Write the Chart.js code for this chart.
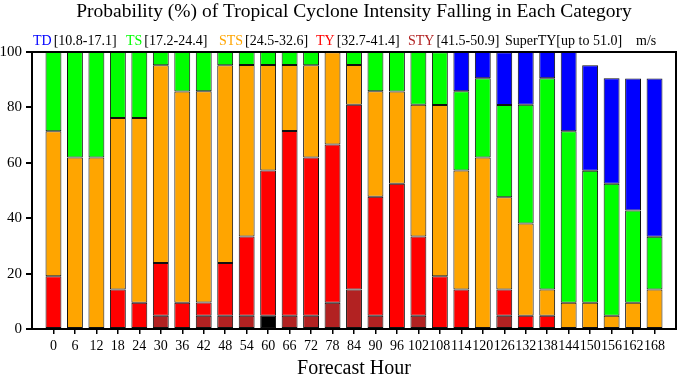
<!DOCTYPE html>
<html>
<head>
<meta charset="utf-8">
<script src="https://cdn.jsdelivr.net/npm/chart.js@4.4.1/dist/chart.umd.min.js"></script>
<style>
  html, body { margin: 0; padding: 0; background: #fff; }
  #wrap { width: 680px; height: 378px; }
</style>
</head>
<body>
<div id="wrap"><canvas id="c" width="680" height="378"></canvas></div>
<script>
// ---- data (percent of ensemble members) ----
const hours = [0, 6, 12, 18, 24, 30, 36, 42, 48, 54, 60, 66, 72, 78, 84, 90, 96, 102, 108, 114, 120, 126, 132, 138, 144, 150, 156, 162, 168];

const superTY = [0, 0, 0, 0, 0, 0, 0, 0, 0, 0, 4.8, 0, 0, 0, 0, 0, 0, 0, 0, 0, 0, 0, 0, 0, 0, 0, 0, 0, 0];
const sty     = [0, 0, 0, 0, 0, 4.8, 0, 4.8, 4.8, 4.8, 0, 4.8, 4.8, 9.5, 14.3, 4.8, 0, 4.8, 0, 0, 0, 4.8, 0, 0, 0, 0, 0, 0, 0];
const ty      = [19.0, 0, 0, 14.3, 9.5, 19.0, 9.5, 4.8, 19.0, 28.6, 52.4, 66.7, 57.1, 57.1, 66.7, 42.9, 52.4, 28.6, 19.0, 14.3, 0, 9.5, 4.8, 4.8, 0, 0, 0, 0, 0];
const sts     = [52.4, 61.9, 61.9, 61.9, 66.7, 71.4, 76.2, 76.2, 71.4, 61.9, 38.1, 23.8, 33.3, 33.3, 14.3, 38.1, 33.3, 47.6, 61.9, 42.9, 61.9, 33.3, 33.3, 9.5, 9.5, 9.5, 4.8, 9.5, 14.3];
const ts      = [28.6, 38.1, 38.1, 23.8, 23.8, 4.8, 14.3, 14.3, 4.8, 4.8, 4.8, 4.8, 4.8, 0, 4.8, 14.3, 14.3, 19.0, 19.0, 28.6, 28.6, 33.3, 42.9, 76.2, 61.9, 47.6, 47.6, 33.3, 19.0];
const td      = [0, 0, 0, 0, 0, 0, 0, 0, 0, 0, 0, 0, 0, 0, 0, 0, 0, 0, 0, 14.3, 9.5, 19.0, 19.0, 9.5, 28.6, 38.1, 38.1, 47.6, 57.1];

const yTicks = [0, 20, 40, 60, 80, 100];

const titleText = 'Probability (%) of Tropical Cyclone Intensity Falling in Each Category';
const xTitle = 'Forecast Hour';
const legendNames  = ['TD', 'TS', 'STS', 'TY', 'STY', 'SuperTY'];
const legendRanges = ['[10.8-17.1]', '[17.2-24.4]', '[24.5-32.6]', '[32.7-41.4]', '[41.5-50.9]', '[up to 51.0]'];
const legendColors = ['#0000ff', '#00ff00', '#ffa500', '#ff0000', '#b22222', '#000000'];
const unitLabel = 'm/s';

// ---- build chart structures ----
// blank slots at both ends give the half-category margin seen in the reference
const labels = [''].concat(hours.map(String), ['']);
const pad = arr => [null].concat(arr.map(v => (v === 0 ? null : v)), [null]);

const SERIF = '"Liberation Serif", "Times New Roman", serif';

const series = [
  { name: 'SuperTY', data: superTY, color: '#000000' },
  { name: 'STY',     data: sty,     color: '#b22222' },
  { name: 'TY',      data: ty,      color: '#ff0000' },
  { name: 'STS',     data: sts,     color: '#ffa500' },
  { name: 'TS',      data: ts,      color: '#00ff00' },
  { name: 'TD',      data: td,      color: '#0000ff' }
];

const datasets = series.map(s => ({
  label: s.name,
  data: pad(s.data),
  backgroundColor: s.color,
  borderColor: '#111111',
  borderWidth: 1,
  borderSkipped: false,
  categoryPercentage: 1.0,
  barPercentage: 0.74
}));

const decorPlugin = {
  id: 'decor',
  afterDatasetsDraw(chart) {
    const { ctx, chartArea: a } = chart;
    ctx.save();
    ctx.strokeStyle = '#000';
    ctx.lineWidth = 2;
    ctx.strokeRect(a.left, a.top, a.right - a.left, a.bottom - a.top);
    ctx.restore();
  },
  afterDraw(chart) {
    const { ctx, chartArea: a } = chart;
    ctx.save();
    // title
    ctx.fillStyle = '#000';
    ctx.font = '19.5px ' + SERIF;
    ctx.textAlign = 'center';
    ctx.textBaseline = 'alphabetic';
    ctx.fillText(titleText, (a.left + a.right) / 2, 17);
    // legend line
    ctx.font = '14px ' + SERIF;
    ctx.textAlign = 'left';
    const nameX = [33, 126, 219, 316, 408, 505];
    const baseY = 45;
    legendNames.forEach((n, i) => {
      ctx.fillStyle = legendColors[i];
      ctx.fillText(n, nameX[i], baseY);
      const w = ctx.measureText(n).width;
      ctx.fillStyle = '#000';
      ctx.fillText(legendRanges[i], nameX[i] + w + (i === 5 ? 0 : 2), baseY);
    });
    ctx.fillStyle = '#000';
    ctx.fillText(unitLabel, 636, baseY);
    ctx.restore();
  }
};

new Chart(document.getElementById('c'), {
  type: 'bar',
  data: { labels: labels, datasets: datasets },
  options: {
    responsive: false,
    animation: false,
    devicePixelRatio: 1,
    layout: { padding: { top: 52, right: 1, left: 0, bottom: 0 } },
    plugins: {
      legend: { display: false },
      tooltip: { enabled: false },
      title: { display: false }
    },
    scales: {
      x: {
        stacked: true,
        offset: false,
        grid: {
          offset: false,
          display: true,
          drawOnChartArea: false,
          drawTicks: true,
          tickLength: 5,
          lineWidth: 1.5,
          color: '#000',
          tickColor: c => (c.index === 0 || c.index === labels.length - 1) ? 'rgba(0,0,0,0)' : '#000'
        },
        border: { display: true, color: '#000', width: 2 },
        ticks: {
          autoSkip: false,
          maxRotation: 0,
          minRotation: 0,
          padding: 4,
          color: '#000',
          font: { family: SERIF, size: 14 }
        },
        title: {
          display: true,
          text: xTitle,
          color: '#000',
          font: { family: SERIF, size: 20, lineHeight: 1 },
          padding: { top: 0, bottom: -1 }
        },
        afterFit: s => { s.height = 49; }
      },
      y: {
        stacked: true,
        min: 0,
        max: 100,
        afterBuildTicks: s => { s.ticks = yTicks.map(v => ({ value: v })); },
        grid: {
          display: true,
          drawOnChartArea: false,
          drawTicks: true,
          tickLength: 6,
          lineWidth: 2,
          color: '#000'
        },
        border: { display: true, color: '#000', width: 2 },
        ticks: {
          padding: 4,
          color: '#000',
          font: { family: SERIF, size: 15 }
        },
        afterFit: s => { s.width = 32; }
      }
    }
  },
  plugins: [decorPlugin]
});
</script>
</body>
</html>
